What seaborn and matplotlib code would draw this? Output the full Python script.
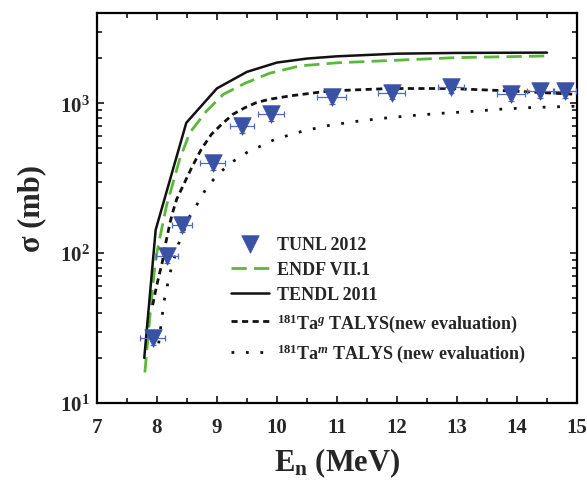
import numpy as np
import pandas as pd
import matplotlib
matplotlib.use('Agg')
import matplotlib.pyplot as plt
import seaborn as sns
from matplotlib.ticker import MultipleLocator, LogLocator, NullFormatter

# TUNL 2012 measured points
tunl_en = [7.93, 8.17, 8.42, 8.93, 9.42, 9.90, 10.91, 11.91, 12.90, 13.90, 14.38, 14.80]
tunl_sig = [27, 95, 154, 398, 703, 845, 1101, 1178, 1292, 1148, 1208, 1208]
tunl_xerr = [0.21, 0.18, 0.16, 0.21, 0.20, 0.22, 0.24, 0.23, 0.22, 0.23, 0.22, 0.18]

# ENDF/B-VII.1
endf_en = [7.80, 7.87, 7.91, 7.95, 7.99, 8.08, 8.16, 8.38, 8.55, 8.83, 9.11, 9.47, 9.88, 10.38, 11.0, 12.0, 13.0, 14.5]
endf_sig = [16, 33, 49, 71, 96, 145, 207, 423, 637, 889, 1148, 1359, 1585, 1773, 1860, 1935, 2015, 2066]

# TENDL 2011
tendl_en = [7.79, 7.98, 8.49, 9.0, 9.5, 10.0, 10.5, 11.0, 12.0, 13.0, 14.0, 14.5]
tendl_sig = [20, 143, 740, 1255, 1618, 1867, 1985, 2055, 2140, 2165, 2172, 2175]

# 181Ta g TALYS
tag_en = [7.93, 7.99, 8.04, 8.09, 8.15, 8.22, 8.27, 8.33, 8.58, 8.74, 8.91, 9.08, 9.27, 9.47, 9.66, 9.88, 10.22, 10.88, 11.88, 12.88, 13.88, 15.0]
tag_sig = [45, 59, 72, 87, 118, 160, 191, 229, 372, 493, 621, 724, 845, 935, 1010, 1063, 1119, 1208, 1253, 1253, 1208, 1145]

# 181Ta m TALYS
tam_en = [8.03, 8.12, 8.22, 8.36, 8.55, 8.69, 8.83, 9.02, 9.24, 9.5, 9.74, 9.97, 10.44, 10.88, 11.38, 11.88, 12.33, 12.77, 13.22, 13.72, 14.22, 15.0]
tam_sig = [25, 48, 74, 115, 177, 218, 274, 336, 402, 469, 520, 575, 653, 713, 762, 802, 832, 858, 880, 912, 935, 955]

sns.set_theme(style='ticks')
plt.rcParams['font.family'] = ['Liberation Serif', 'DejaVu Serif']
plt.rcParams['font.weight'] = 'bold'
plt.rcParams['mathtext.fontset'] = 'custom'
plt.rcParams['mathtext.rm'] = 'Liberation Serif:bold'
plt.rcParams['mathtext.bf'] = 'Liberation Serif:bold'
plt.rcParams['mathtext.it'] = 'Liberation Serif:italic:bold'
plt.rcParams['mathtext.default'] = 'rm'

fig = plt.figure(figsize=(5.87, 4.81), dpi=100)
ax = fig.add_axes([0.165, 0.16, 0.818, 0.811])

green = '#5cb83a'
blue = '#3a52a6'

sns.lineplot(data=pd.DataFrame({'x': endf_en, 'y': endf_sig}), x='x', y='y', ax=ax,
             color=green, lw=2.0, linestyle=(0, (5.5, 2.6)), label='ENDF VII.1')
sns.lineplot(data=pd.DataFrame({'x': tendl_en, 'y': tendl_sig}), x='x', y='y', ax=ax,
             color='#111111', lw=1.8, label='TENDL 2011')
sns.lineplot(data=pd.DataFrame({'x': tag_en, 'y': tag_sig}), x='x', y='y', ax=ax,
             color='#111111', lw=2.0, linestyle=(0, (2.2, 1.6)),
             label='$^{181}$Ta$^{\\mathit{g}}$ TALYS(new evaluation)')
sns.lineplot(data=pd.DataFrame({'x': tam_en, 'y': tam_sig}), x='x', y='y', ax=ax,
             color='#111111', lw=2.0, linestyle=(0, (1, 4.2)),
             label='$^{181}$Ta$^{\\mathit{m}}$ TALYS (new evaluation)')

tunl_sig_a = np.array(tunl_sig, dtype=float)
ax.errorbar(tunl_en, tunl_sig, xerr=tunl_xerr, yerr=0.1 * tunl_sig_a, fmt='none',
            ecolor='#4a6cc0', elinewidth=0.9, capsize=2.5, capthick=0.9, zorder=4)
sns.scatterplot(x=tunl_en, y=tunl_sig, ax=ax, marker='v', s=160, color=blue,
                edgecolor=blue, linewidth=0.5, zorder=5, label='TUNL 2012')

ax.set_yscale('log')
ax.set_xlim(7, 15)
ax.set_ylim(10, 4000)

ax.xaxis.set_major_locator(MultipleLocator(1))
ax.xaxis.set_minor_locator(MultipleLocator(0.5))
ax.yaxis.set_major_locator(LogLocator(base=10, numticks=10))
ax.yaxis.set_minor_locator(LogLocator(base=10, subs=np.arange(2, 10), numticks=10))
ax.yaxis.set_minor_formatter(NullFormatter())

ax.tick_params(which='both', direction='in', top=True, right=True, width=1.3, labelsize=15)
ax.tick_params(which='major', length=5)
ax.tick_params(which='minor', length=3.5)
ax.tick_params(axis='x', which='major', pad=10)
ax.tick_params(axis='y', which='major', pad=5)
for s in ax.spines.values():
    s.set_linewidth(1.6)
    s.set_color('black')

ax.set_xlabel('E$_{n}$ (MeV)', fontsize=22, fontweight='bold', labelpad=6)
ax.set_ylabel('σ (mb)', fontsize=22, fontweight='bold', labelpad=10)

handles, labels = ax.get_legend_handles_labels()
order = [labels.index('TUNL 2012')] + [i for i, l in enumerate(labels) if l != 'TUNL 2012']
ax.legend([handles[i] for i in order], [labels[i] for i in order],
          loc='upper left', bbox_to_anchor=(0.245, 0.47), frameon=False,
          handlelength=2.1, labelspacing=0.45, handletextpad=0.45,
          prop={'weight': 'bold', 'size': 13})

fig.savefig('out.png', dpi=100)
